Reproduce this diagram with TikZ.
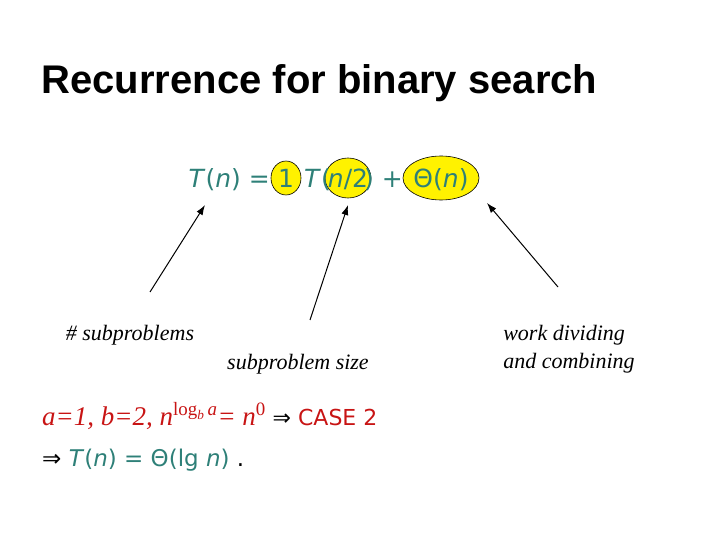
\documentclass[tikz,border=0pt]{standalone}
\usepackage{fontspec}
\setmainfont{Liberation Serif}
\newfontfamily\sansf{DejaVu Sans}
\newfontfamily\titlef{Liberation Sans}
\usetikzlibrary{shapes.geometric,arrows.meta}
\definecolor{teal1}{RGB}{46,128,120}
\definecolor{red1}{RGB}{200,20,20}
\begin{document}
\begin{tikzpicture}[x=1pt,y=-1pt,
  eqt/.style={font=\sansf\fontsize{25}{30}\selectfont,text=teal1,inner sep=0pt,anchor=base},
  hl/.style={ellipse,draw=black,fill=yellow,inner sep=0pt,line width=0.6pt},
  lbl/.style={font=\itshape\fontsize{22}{28}\selectfont,align=left},
  arr/.style={-{Latex[length=10pt,width=7pt]},line width=1pt}]
\useasboundingbox (0,0) rectangle (720,540);
\node[font=\titlef\bfseries\fontsize{40}{44}\selectfont,anchor=west] (title) at (38,83) {Recurrence for binary search};
% highlights
\node[hl,minimum width=30pt,minimum height=34pt] (one) at (286,178) {};
\node[hl,minimum width=46pt,minimum height=40pt] (half) at (348,178) {};
\node[hl,minimum width=76pt,minimum height=44pt] (theta) at (441,178) {};
% equation text
\node[eqt,anchor=base east] (lhs) at (270,188) {\textit{T}(\textit{n}) =};
\node[eqt] (t1) at (286,188) {1};
\node[eqt,anchor=base east] (tt) at (331,188) {\textit{T}(};
\node[eqt] (t2) at (348,188) {\textit{n}/2};
\node[eqt,anchor=base west] (cl) at (364,188) {) +};
\node[eqt] (t3) at (441,188) {Θ(\textit{n})};
% labels
\node[lbl] (sub) at (130,335) {\# subproblems};
\node[lbl] (size) at (298,364) {subproblem size};
\node[lbl] (work) at (569,349) {work dividing\\and combining};
\coordinate (a1) at (150,292); \coordinate (b1) at (205,205);
\coordinate (a2) at (310,320); \coordinate (b2) at (348,205);
\coordinate (a3) at (558,287); \coordinate (b3) at (487,203);
\draw[arr] (a1) -- (b1);
\draw[arr] (a2) -- (b2);
\draw[arr] (a3) -- (b3);
% bottom
\node[anchor=base west,inner sep=0pt,text=red1] (l1) at (42,425)
 {\fontsize{27}{30}\selectfont\itshape a=1, b=2, n\textsuperscript{\upshape log\textsubscript{\itshape b}\,\itshape a}= n\textsuperscript{\upshape 0} \upshape{\sansf\fontsize{22}{26}\selectfont\textcolor{black}{⇒} CASE 2}};
\node[anchor=base west,inner sep=0pt] (l2) at (42,466)
 {\sansf\fontsize{23}{27}\selectfont ⇒ \textcolor{teal1}{\textit{T}(\textit{n}) = Θ(lg \textit{n})} .};
\end{tikzpicture}
\end{document}
